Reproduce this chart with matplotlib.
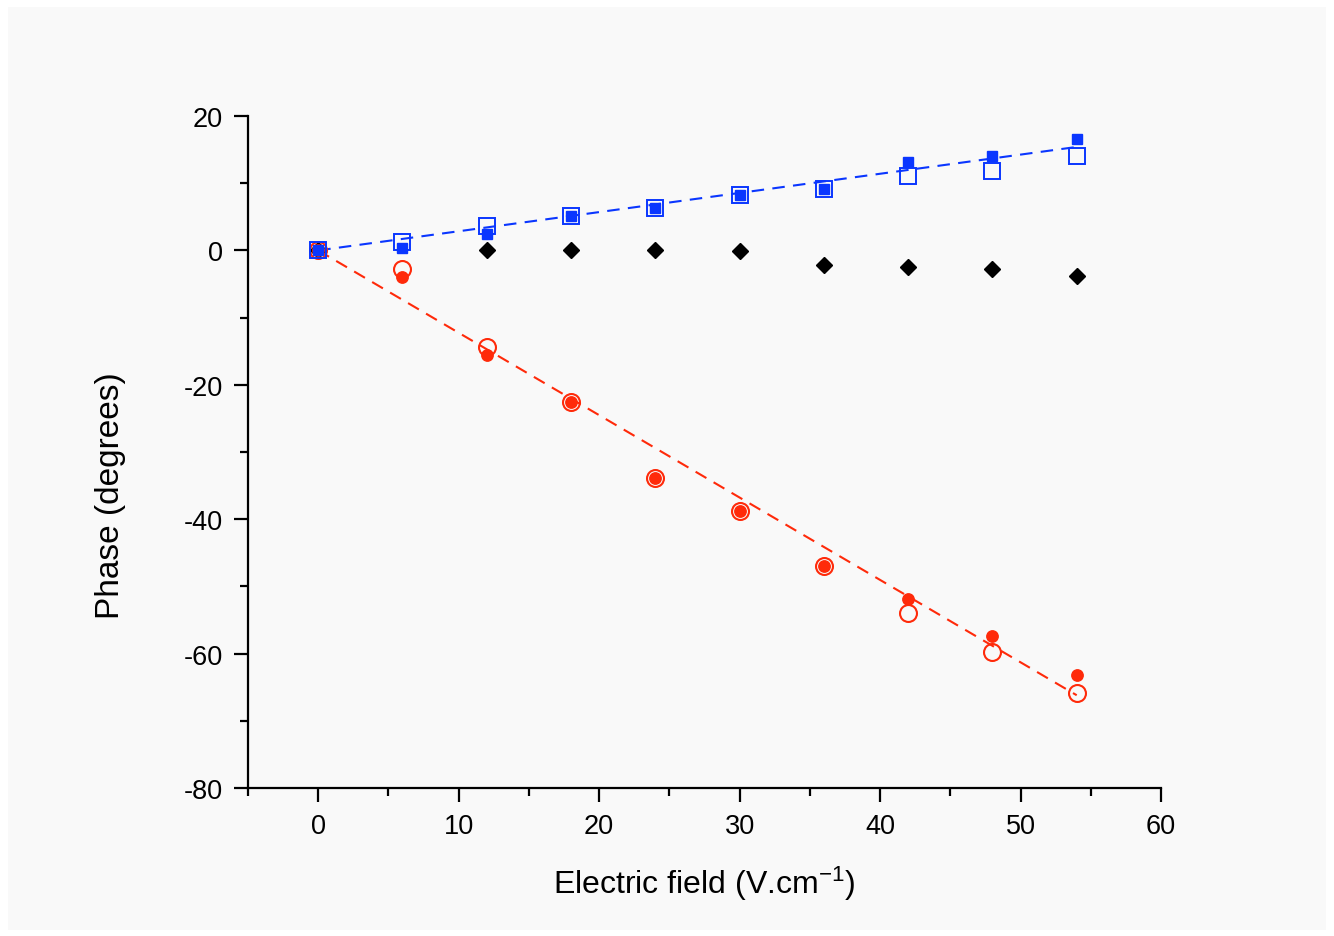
import matplotlib
matplotlib.use("Agg")
import matplotlib.pyplot as plt
from matplotlib.ticker import MultipleLocator
import numpy as np

plt.rcParams['font.family'] = ['Liberation Sans', 'DejaVu Sans']
plt.rcParams['mathtext.default'] = 'regular'
plt.rcParams['axes.unicode_minus'] = False

field = [0, 6, 12, 18, 24, 30, 36, 42, 48, 54]
blue_filled = [0.0, 0.3, 2.5, 5.1, 6.25, 8.2, 9.1, 13.1, 14.0, 16.6]
blue_open = [0.0, 1.3, 3.6, 5.1, 6.25, 8.2, 9.1, 11.1, 11.8, 14.0]
black_diamond = [0.0, np.nan, 0.0, 0.0, 0.0, -0.15, -2.1, -2.4, -2.8, -3.8]
red_filled = [0.0, -4.0, -15.5, -22.6, -33.9, -38.8, -47.0, -51.9, -57.4, -63.2]
red_open = [0.0, -2.8, -14.4, -22.6, -33.9, -38.8, -47.0, -54.0, -59.7, -65.9]
fit_x = [0, 54]
blue_fit = [0.0, 15.4]
red_fit = [0.0, -66.2]

BLUE = '#0a36ff'
RED = '#ff2a0a'

fig = plt.figure(figsize=(13.34, 9.37), dpi=100, facecolor='white')
fig.patches.append(plt.Rectangle((0.006, 0.006), 0.988, 0.985, transform=fig.transFigure,
                                 facecolor='#f9f9f9', edgecolor='none', zorder=-10))
ax = fig.add_axes([0.1859, 0.158, 0.6844, 0.7171])
ax.set_facecolor('none')

ax.plot(field, black_diamond, 'D', color='black', ms=8.3, ls='none', zorder=1)
ax.plot(fit_x, blue_fit, '--', color=BLUE, lw=1.5, dashes=(6, 4), zorder=2)
ax.plot(fit_x, red_fit, '--', color=RED, lw=1.5, dashes=(6, 4), zorder=2)

ax.plot(field, blue_open, 's', mfc='none', mec=BLUE, mew=1.4, ms=11.4, ls='none', zorder=4)
ax.plot(field, blue_filled, 's', color=BLUE, ms=7.6, ls='none', zorder=5)
ax.plot(field, red_open, 'o', mfc='none', mec=RED, mew=1.5, ms=12.2, ls='none', zorder=3)
ax.plot(field, red_filled, 'o', color=RED, ms=8.2, ls='none', zorder=3.5)

ax.set_xlim(-5, 60)
ax.set_ylim(-80, 20)
ax.xaxis.set_major_locator(MultipleLocator(10))
ax.xaxis.set_minor_locator(MultipleLocator(5))
ax.yaxis.set_major_locator(MultipleLocator(20))
ax.yaxis.set_minor_locator(MultipleLocator(10))

for s in ['top', 'right']:
    ax.spines[s].set_visible(False)
for s in ['left', 'bottom']:
    ax.spines[s].set_linewidth(1.6)

ax.tick_params(which='major', direction='out', length=10, width=1.6, labelsize=19.5, pad=8)
ax.tick_params(which='minor', direction='out', length=6, width=1.6)

ax.set_xlabel('Electric field (V.cm$^{-1}$)', fontsize=23, labelpad=18)
ax.set_ylabel('Phase (degrees)', fontsize=24)
ax.yaxis.set_label_coords(-0.151, 0.436)
ax.yaxis.label.set_va('center')

fig.savefig('out.png', dpi=100, facecolor=fig.get_facecolor())
